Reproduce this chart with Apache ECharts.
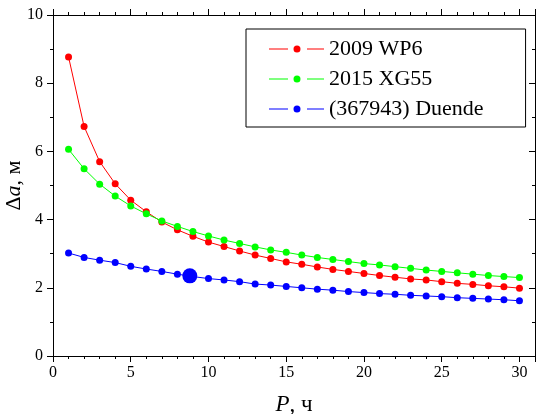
<!DOCTYPE html>
<html>
<head>
<meta charset="utf-8">
<script src="https://cdn.jsdelivr.net/npm/echarts@6/dist/echarts.min.js"></script>
<style>
  html, body { margin: 0; padding: 0; background: #fff; }
  #chart { width: 539px; height: 414px; }
</style>
</head>
<body>
<div id="chart"></div>
<script>
var periods = [1, 2, 3, 4, 5, 6, 7, 8, 9, 10, 11, 12, 13, 14, 15, 16, 17, 18, 19, 20,
  21, 22, 23, 24, 25, 26, 27, 28, 29, 30];
var wp6 = [8.77, 6.73, 5.70, 5.05, 4.57, 4.23, 3.93, 3.70, 3.51, 3.34, 3.21, 3.08, 2.96, 2.86, 2.76,
  2.69, 2.61, 2.54, 2.48, 2.42, 2.36, 2.31, 2.26, 2.23, 2.18, 2.13, 2.10, 2.06, 2.03, 1.99];
var xg55 = [6.06, 5.49, 5.04, 4.69, 4.40, 4.17, 3.96, 3.80, 3.65, 3.52, 3.40, 3.30, 3.20, 3.11, 3.04,
  2.96, 2.89, 2.83, 2.77, 2.71, 2.67, 2.62, 2.57, 2.52, 2.48, 2.44, 2.40, 2.36, 2.33, 2.30];
var duende = [3.02, 2.89, 2.81, 2.74, 2.63, 2.55, 2.48, 2.40, 2.33, 2.27, 2.23, 2.18, 2.11, 2.08, 2.04,
  2.00, 1.96, 1.93, 1.89, 1.86, 1.83, 1.81, 1.78, 1.76, 1.74, 1.71, 1.69, 1.67, 1.65, 1.62];
var seriesNames = ['2009 WP6', '2015 XG55', '(367943) Duende'];
var bigPoint = [8.8, 2.35];

var font = "'Liberation Serif', 'Times New Roman', serif";
var tickRich = { s: { fontFamily: font, fontSize: 16, color: '#000' } };
// line - dot - line legend glyph, 55 x 7
var legendIcon = 'path://M0,3 L19,3 L19,4 L0,4 Z M38,3 L55,3 L55,4 L38,4 Z ' +
  'M24.5,3.5 A3.5,3.5 0 1,0 31.5,3.5 A3.5,3.5 0 1,0 24.5,3.5 Z';

function pairs(vals) {
  return periods.map(function(p, i) { return [p, vals[i]]; });
}

function xAx(pos, interval, len, labels) {
  return {
    type: 'value', position: pos, min: 0, max: 31, interval: interval,
    axisLine: { show: true, onZero: false, lineStyle: { color: '#000', width: 1 } },
    axisTick: { show: true, length: len, lineStyle: { color: '#000', width: 1 } },
    axisLabel: labels ? {
      show: true, color: '#000', fontFamily: font, fontSize: 16, margin: 9, rich: tickRich,
      formatter: function(v) { return v % 5 === 0 ? '{s|' + v + '}' : ''; }
    } : { show: false },
    splitLine: { show: false }
  };
}

function yAx(pos, inside, labels) {
  return {
    type: 'value', position: pos, min: 0, max: 10, interval: 2,
    axisLine: { show: true, onZero: false, lineStyle: { color: '#000', width: 1 } },
    axisTick: { show: true, inside: inside, length: 6, lineStyle: { color: '#000', width: 1 } },
    minorTick: { show: true, splitNumber: 2, length: 3, lineStyle: { color: '#000', width: 1 } },
    axisLabel: labels ? {
      show: true, color: '#000', fontFamily: font, fontSize: 16, margin: 10, rich: tickRich,
      formatter: function(v) { return '{s|' + v + '}'; }
    } : { show: false },
    splitLine: { show: false }
  };
}

var xBottom = xAx('bottom', 1, 3, true);
xBottom.name = '{i|P}{n|, ч}';
xBottom.nameLocation = 'middle';
xBottom.nameGap = 37;
xBottom.nameMoveOverlap = false;
xBottom.nameTextStyle = {
  rich: {
    i: { fontFamily: font, fontSize: 23, fontStyle: 'italic', color: '#000' },
    n: { fontFamily: font, fontSize: 23, color: '#000' }
  }
};

var yLeft = yAx('left', false, true);
yLeft.name = '{n|Δ}{i|a}{n|, м}';
yLeft.nameLocation = 'middle';
yLeft.nameGap = 28;
yLeft.nameMoveOverlap = false;
yLeft.nameTextStyle = {
  rich: {
    i: { fontFamily: font, fontSize: 22, fontStyle: 'italic', color: '#000' },
    n: { fontFamily: font, fontSize: 22, color: '#000' }
  }
};

function line(name, vals, color) {
  return {
    name: name, type: 'line', xAxisIndex: 0, yAxisIndex: 0,
    data: pairs(vals),
    symbol: 'circle', symbolSize: 7,
    itemStyle: { color: color },
    lineStyle: { color: color, width: 1 }
  };
}

var chart = echarts.init(document.getElementById('chart'), null, { renderer: 'canvas' });
chart.setOption({
  animation: false,
  textStyle: { fontFamily: font },
  grid: { left: 53, right: 4, top: 15, bottom: 58, containLabel: false, outerBoundsMode: 'none' },
  xAxis: [
    xBottom,
    xAx('bottom', 5, 6, false),
    xAx('top', 1, 3, false),
    xAx('top', 5, 6, false)
  ],
  yAxis: [yLeft, yAx('right', true, false)],
  legend: {
    orient: 'vertical', left: 246, top: 29,
    data: seriesNames.map(function(n) { return { name: n, icon: legendIcon }; }),
    padding: [9, 42, 7, 23],
    itemGap: 8, itemWidth: 55, itemHeight: 7, itemTextGap: 7,
    borderColor: '#000', borderWidth: 1,
    textStyle: { fontFamily: font, fontSize: 22, lineHeight: 22, color: '#000' }
  },
  series: [
    line(seriesNames[0], wp6, '#ff0000'),
    line(seriesNames[1], xg55, '#00ff00'),
    line(seriesNames[2], duende, '#0000ff'),
    {
      type: 'scatter', xAxisIndex: 0, yAxisIndex: 0,
      data: [bigPoint], symbol: 'circle', symbolSize: 15,
      itemStyle: { color: '#0000ff', opacity: 1 }, z: 5
    }
  ]
});
</script>
</body>
</html>
